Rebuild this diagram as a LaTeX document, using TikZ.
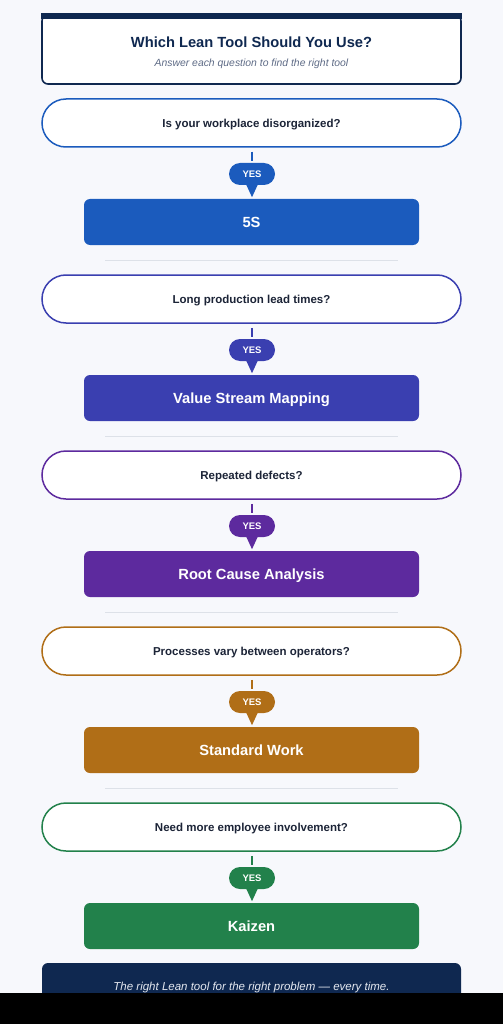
\documentclass[tikz,border=0pt]{standalone}
\usepackage{fontspec}
\setmainfont{Liberation Sans}
\usetikzlibrary{positioning}
\definecolor{bgpage}{HTML}{F7F8FC}
\definecolor{navy}{HTML}{0F2850}
\definecolor{qtext}{HTML}{1C2437}
\definecolor{subgray}{HTML}{5E6B86}
\definecolor{sepgray}{HTML}{DDE1E8}
\definecolor{footgray}{HTML}{E4E8F0}
\definecolor{cfive}{HTML}{1B5BBD}
\definecolor{cvsm}{HTML}{3A3FB0}
\definecolor{crca}{HTML}{5D2A9E}
\definecolor{cstd}{HTML}{B06E17}
\definecolor{ckai}{HTML}{22814B}

\begin{document}
\begin{tikzpicture}[x=1pt, y=-1pt,
  question/.style = {draw=#1, line width=1.5pt, fill=white, rounded corners=24pt, text depth=0pt,
    minimum width=419pt, minimum height=48pt, font=\fontsize{11.5}{13}\selectfont\bfseries, text=qtext},
  toolbox/.style = {fill=#1, rounded corners=6pt, minimum width=335pt, minimum height=46pt, text depth=0pt,
    font=\fontsize{14.7}{17}\selectfont\bfseries, text=white},
  yespill/.style = {fill=#1, rounded corners=11pt, minimum width=46pt, minimum height=22pt, text depth=0pt,
    inner sep=0pt, font=\fontsize{9.5}{11}\selectfont\bfseries, text=white},
  link/.style = {draw=#1, line width=2pt}]
  \useasboundingbox (0,0) rectangle (503,1024);
  \fill[bgpage] (0,0) rectangle (503,1024);

  % header
  \node[draw=navy, line width=1.6pt, fill=white, rounded corners=6pt,
    minimum width=419pt, minimum height=69pt] (head) at (251.5,49.5) {};
  \fill[navy] ([yshift=0.8pt]head.north west) rectangle ([yshift=-5pt]head.north east);
  \node[font=\fontsize{14.7}{17}\selectfont\bfseries, text=navy] (title) at (251.5,42) {Which Lean Tool Should You Use?};
  \node[font=\fontsize{10.4}{12}\selectfont\itshape, text=subgray] (subtitle) at (251.5,64) {Answer each question to find the right tool};

  % questions, answers and tools
  \foreach \i/\ques/\tool/\col in {
      0/{Is your workplace disorganized?}/5S/cfive,
      1/{Long production lead times?}/{Value Stream Mapping}/cvsm,
      2/{Repeated defects?}/{Root Cause Analysis}/crca,
      3/{Processes vary between operators?}/{Standard Work}/cstd,
      4/{Need more employee involvement?}/Kaizen/ckai}{
    \node[question=\col] (q\i) at (251.5,{123+176*\i}) {\ques};
    \node[yespill=\col] (y\i) at (252,{174+176*\i}) {YES};
    \fill[\col] ([xshift=-6pt,yshift=1pt]y\i.south) -- ([xshift=6pt,yshift=1pt]y\i.south) -- ([yshift=-12pt]y\i.south) -- cycle;
    \node[toolbox=\col] (t\i) at (251.5,{222+176*\i}) {\tool};
    \draw[link=\col] ([xshift=0.5pt,yshift=-4pt]q\i.south) -- ([yshift=2pt]y\i.north);
  }
  \foreach \i in {0,...,3}
    \draw[sepgray, line width=1pt] (105,{260+176*\i}) -- (398,{260+176*\i});

  % footer
  \node[fill=navy, rounded corners=6pt, minimum width=419pt, minimum height=50pt] (foot) at (251.5,988) {};
  \node[font=\fontsize{11.5}{13}\selectfont\itshape, text=footgray, text depth=0pt] (motto) at (251.5,986) {The right Lean tool for the right problem — every time.};
  \fill[black] (0,993) rectangle (503,1024);
\end{tikzpicture}
\end{document}
